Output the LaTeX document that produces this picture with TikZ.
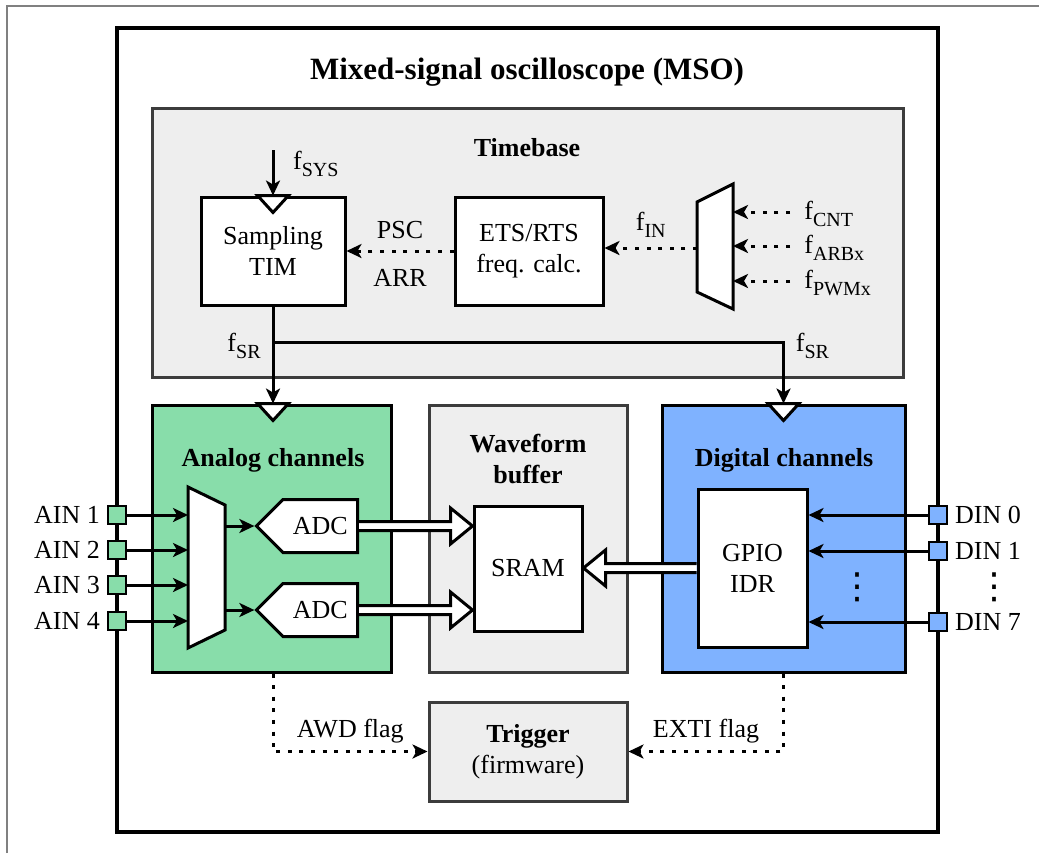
\documentclass[tikz,border=0pt]{standalone}
\usepackage{fontspec}
\setmainfont{Liberation Serif}
\newfontfamily\symfont{DejaVu Sans}
\usetikzlibrary{arrows.meta, positioning, calc, shapes.symbols}

\definecolor{anafill}{HTML}{88DDAA}
\definecolor{digfill}{HTML}{7FB2FF}
\definecolor{grpfill}{HTML}{EEEEEE}
\definecolor{grpline}{HTML}{3C3C3C}

\newcommand{\labelfont}{\fontsize{13}{15.5}\selectfont}
% frequency symbol with a subscript
\newcommand{\fsub}[1]{f\raisebox{-0.27em}{\fontsize{10}{12}\selectfont #1}}

\tikzset{
  block/.style={draw, line width=1.5pt, fill=white, align=center, inner sep=0pt},
  group/.style={draw=grpline, line width=1.5pt, fill=grpfill},
  channel/.style={draw, line width=1.5pt},
  pin/.style={draw, line width=1.1pt, minimum size=9pt, inner sep=0pt},
  sig/.style={line width=1.5pt, -{Stealth[length=7.5pt, width=7pt, inset=2pt]}},
  flag/.style={sig, dash pattern=on 2pt off 3.8pt},
  bus/.style={line width=1.5pt, fill=white, line join=miter},
  clk/.style={line width=1.5pt, fill=white},
  mux/.style={line width=1.5pt, fill=white},
  title/.style={font=\labelfont\bfseries, align=center},
  dots/.style={font=\fontsize{18}{20}\selectfont\symfont, inner sep=0pt}
}

% clock input triangle on a box top
\newcommand{\clock}[1]{\draw[clk] ($(#1)+(-15.5,0)$) -- ++(15.5,17) -- ++(15.5,-17) -- cycle;}
% wide hollow bus arrow (horizontal)
\newcommand{\busarrow}[2]{%
  \draw[bus] ($(#1)+(0,4.5)$) -- ($(#2)!11pt!(#1)+(0,4.5)$)
    -- ($(#2)!11pt!(#1)+(0,18)$) -- (#2)
    -- ($(#2)!11pt!(#1)+(0,-18)$) -- ($(#2)!11pt!(#1)+(0,-4.5)$)
    -- ($(#1)+(0,-4.5)$);}

\begin{document}
\begin{tikzpicture}[x=0.5pt, y=-0.5pt, font=\labelfont]
\useasboundingbox (0,0) rectangle (1039,853);
\draw[gray, line width=0.8pt] (7,853) -- (7,6) -- (1039,6);

% outer frame
\draw[line width=2pt] (117,28) rectangle (938,832);
\node[font=\fontsize{15.5}{18}\selectfont\bfseries] (mso) at (527,72) {Mixed-signal oscilloscope (MSO)};

% timebase
\node[group, minimum width=375.5pt, minimum height=134.5pt] (timebase) at (527.5,242.5) {};
\node[title] at (527,148) {Timebase};
\node[block, minimum width=72pt, minimum height=54pt] (tim) at (273,251) {Sampling\\TIM};
\node[block, minimum width=74pt, minimum height=54pt] (ets) at (529,251) {ETS/RTS\\freq. calc.};
\draw[mux] (697,202) -- (733,184) -- (733,309) -- (697,292) -- cycle;
\coordinate (tmuxin) at (733,247);
\coordinate (tmuxout) at (697,248);

\foreach \name/\y/\txt in {fcnt/212/CNT, farb/246/ARBx, fpwm/281/PWMx} {
  \node[anchor=west, inner sep=2pt] (\name) at (800,\y+2) {\fsub{\txt}};
  \draw[flag] (\name.west |- 0,\y) ++(-10,0) -- (tmuxin |- 0,\y);
}
\draw[flag] (tmuxout) -- (tmuxout -| ets.east) node[midway, above=1pt] {\fsub{IN}};
\draw[flag] (ets.west) -- (tim.east) node[midway, above=2pt] {PSC} node[midway, below=5pt] {ARR};

\coordinate (fsys) at (273,150);
\draw[sig] (fsys) -- (tim.north) node[pos=0.3, right=6pt] {\fsub{SYS}};
\clock{tim.north}

% channels and buffer
\node[channel, fill=anafill, minimum width=119.5pt, minimum height=133.5pt] (analog) at (271.5,538.5) {};
\node[group, minimum width=99pt, minimum height=133.5pt] (wave) at (528,538.5) {};
\node[channel, fill=digfill, minimum width=121.5pt, minimum height=133.5pt] (digital) at (783.5,538.5) {};
\node[title] at (273,460) {Analog channels};
\node[title] at (528,459) {Waveform\\buffer};
\node[title] at (784,460) {Digital channels};

% sampling clock
\coordinate (aclk) at (tim.south |- analog.north);
\coordinate (br) at (273,342);
\draw[sig] (tim.south) -- (aclk);
\draw[sig] (br) -| (digital.north);
\node[anchor=east, inner sep=6pt] at ($(br)+(0,4)$) {\fsub{SR}};
\node[anchor=west, inner sep=6pt] at ($(br -| digital.north)+(0,4)$) {\fsub{SR}};
\clock{aclk}
\clock{digital.north}

% analog path
\draw[mux] (188,487) -- (225,505) -- (225,630) -- (188,648) -- cycle;
\coordinate (amuxin) at (188,567);
\coordinate (amuxout) at (225,567);
\node[block, signal, signal to=west, minimum width=50.5pt, minimum height=26.5pt, anchor=east] (adc1) at (359,526) {ADC};
\node[block, signal, signal to=west, minimum width=50.5pt, minimum height=26.5pt, anchor=east] (adc2) at (359,610) {ADC};
\draw[sig] (adc1.west -| amuxout) -- (adc1.west);
\draw[sig] (adc2.west -| amuxout) -- (adc2.west);

\foreach \i/\y in {1/515, 2/550, 3/585, 4/621} {
  \node[pin, fill=anafill] (ain\i) at (117,\y) {};
  \node[anchor=east] at (ain\i.west) {AIN \i};
  \draw[sig] (ain\i.east) -- (ain\i.east -| amuxin);
}

% memory and digital path
\node[block, minimum width=54pt, minimum height=62.5pt] (sram) at (528,568.5) {SRAM};
\node[block, minimum width=54.5pt, minimum height=79pt] (gpio) at (752.5,568) {GPIO\\IDR};
\coordinate (s1) at (adc1.east -| sram.west);
\coordinate (s2) at (adc2.east -| sram.west);
\coordinate (s3) at (gpio.west -| sram.east);
\busarrow{adc1.east}{s1}
\busarrow{adc2.east}{s2}
\busarrow{gpio.west}{s3}

\foreach \i/\y in {0/515, 1/551, 7/622} {
  \node[pin, fill=digfill] (din\i) at (938,\y) {};
  \node[anchor=west] at (din\i.east) {DIN \i};
  \draw[sig] (din\i.west) -- (din\i.west -| gpio.east);
}
\node[dots] (dindots) at (994,587) {⋮};
\node[dots] (idrdots) at (857,587) {⋮};

% trigger
\node[group, align=center, minimum width=99pt, minimum height=49.5pt] (trigger) at (528,751.5) {\textbf{Trigger}\\(firmware)};
\draw[flag] (analog.south -| aclk) |- (trigger.west) node[pos=0.75, above] {AWD flag};
\draw[flag] (digital.south) |- (trigger.east) node[pos=0.75, above] {EXTI flag};
\end{tikzpicture}
\end{document}
